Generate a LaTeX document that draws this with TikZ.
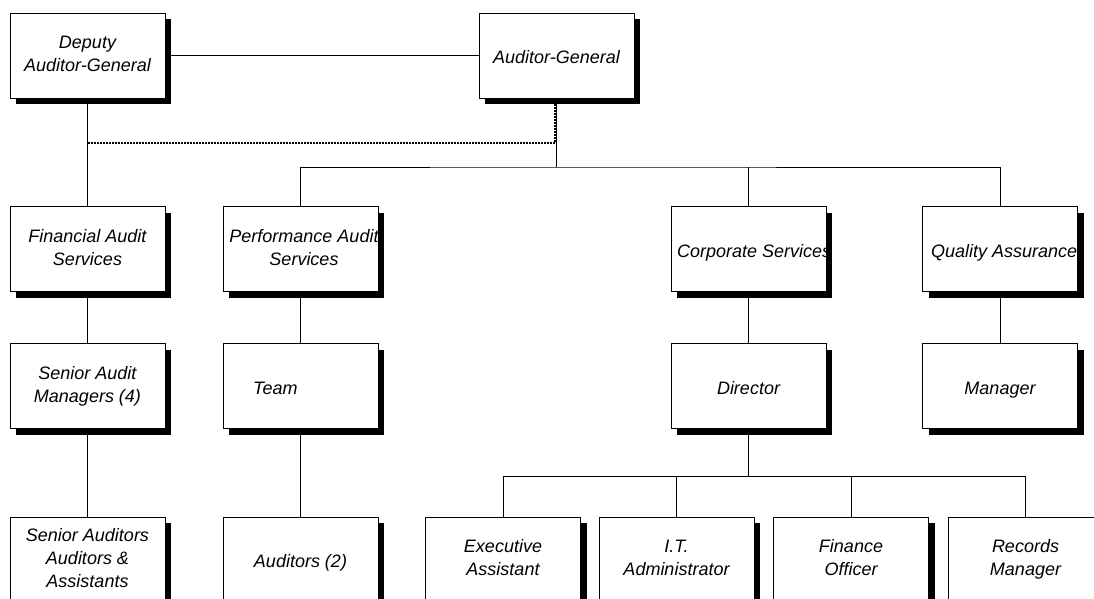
\documentclass[tikz,border=0pt]{standalone}
\usepackage{fontspec}
\setmainfont{Liberation Sans}
\usetikzlibrary{shadows}

\begin{document}
\begin{tikzpicture}[x=1pt,y=-1pt,
  post/.style={draw,fill=white,line width=0.8pt,minimum width=155pt,minimum height=85pt,
    inner sep=0pt,align=center,font=\itshape\fontsize{18}{23}\selectfont,
    execute at begin node=\rule{0pt}{20pt},execute at end node=\rule[-4pt]{0pt}{4pt},
    drop shadow={shadow xshift=6pt,shadow yshift=-6pt,opacity=1,fill=black}},
  lbl/.style={inner sep=0pt,align=center,font=\itshape\fontsize{18}{23}\selectfont,
    execute at begin node=\rule{0pt}{20pt},execute at end node=\rule[-4pt]{0pt}{4pt}},
  link/.style={line width=0.8pt}]
\useasboundingbox (0,0) rectangle (1094,598);

% top
\node[post] (dep) at (87.5,55.5) {Deputy\\Auditor-General};
\node[post] (ag) at (556.5,55.5) {Auditor-General};
% services
\node[post] (fas) at (87.5,249) {Financial Audit\\Services};
\node[post] (pas) at (300.5,249) {};
\node[post] (cs) at (748.5,249) {};
\node[post] (qa) at (1000,249) {};
% managers
\node[post] (sam) at (87.5,386) {Senior Audit\\Managers (4)};
\node[post] (team) at (300.5,386) {};
\node[post] (dir) at (748.5,386) {Director};
\node[post] (mgr) at (1000,386) {Manager};
% staff
\node[post] (sa) at (87.5,559.5) {Senior Auditors\\Auditors \&\\Assistants};
\node[post] (aud) at (300.5,559.5) {Auditors (2)};
\node[post] (ea) at (503,559.5) {Executive\\Assistant};
\node[post] (ita) at (676.5,559.5) {I.T.\\Administrator};
\node[post] (fo) at (851,559.5) {Finance\\Officer};
\node[post] (rm) at (1025.5,559.5) {Records\\Manager};

% texts that run over the box
\begin{scope}
\clip (pas.south west) rectangle (pas.north east);
\node[lbl] (pastext) at (304,249) {Performance Audit\\Services};
\end{scope}
\begin{scope}
\clip (cs.south west) rectangle (cs.north east);
\node[lbl,anchor=west] (cstext) at (677,249) {Corporate Services};
\end{scope}
\begin{scope}
\clip (qa.south west) rectangle (qa.north east);
\node[lbl,anchor=west] (qatext) at (931,249) {Quality Assurance};
\end{scope}
\node[lbl,anchor=west] (teamtext) at (253,386) {Team};

% lines
\coordinate (dots) at (0,143);
\coordinate (bus) at (556.5,167);
\coordinate (bus2) at (748.5,476);
\draw[link] (dep) -- (ag);
\draw[link] (dep) -- (fas);
\draw[line width=1.2pt,dash pattern=on 1.2pt off 1.8pt] ([xshift=-1.5pt]ag.south) |- (dep.south |- dots);
\draw[link] (ag) -- (bus);
\draw[link] (pas.north) |- (bus) -| (qa.north);
\draw[link] (cs.north) -- (cs.north |- bus);
\draw[link] (fas) -- (sam);
\draw[link] (sam) -- (sa);
\draw[link] (pas) -- (team);
\draw[link] (team) -- (aud);
\draw[link] (cs) -- (dir);
\draw[link] (qa) -- (mgr);
\draw[link] (dir) -- (bus2);
\draw[link] (ea.north) |- (bus2) -| (rm.north);
\draw[link] (ita.north) -- (ita.north |- bus2);
\draw[link] (fo.north) -- (fo.north |- bus2);
\end{tikzpicture}
\end{document}
